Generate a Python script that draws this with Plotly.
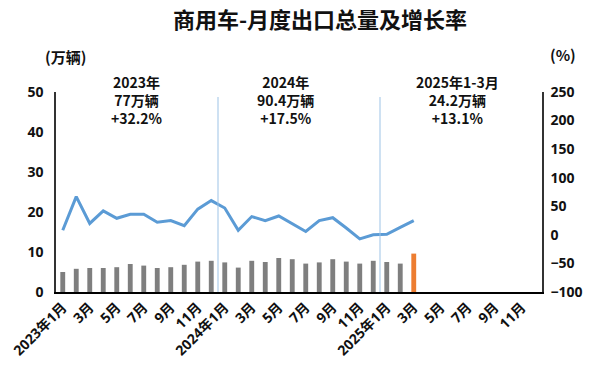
import plotly.graph_objects as go

months = [f"{y}年{m}月" for y in (2023, 2024, 2025) for m in range(1, 13)]
tick_labels = ["2023年1月", "3月", "5月", "7月", "9月", "11月",
               "2024年1月", "3月", "5月", "7月", "9月", "11月",
               "2025年1月", "3月", "5月", "7月", "9月", "11月"]

volume_2023 = [5.0, 5.8, 6.0, 6.0, 6.2, 7.0, 6.6, 6.0, 6.2, 6.8, 7.6, 7.8]
volume_2024 = [7.4, 6.1, 7.8, 7.5, 8.5, 8.2, 7.1, 7.4, 8.2, 7.6, 7.1, 7.8]
volume_2025 = [7.5, 7.1, 9.6]

growth_2023 = [8, 67, 20, 42, 29, 36, 36, 22, 25, 16, 45, 60]
growth_2024 = [47, 8, 32, 25, 33, 19, 6, 25, 30, 12, -7, 0]
growth_2025 = [1, 13, 25]

year_notes = ["2023年<br>77万辆<br>+32.2%",
              "2024年<br>90.4万辆<br>+17.5%",
              "2025年1-3月<br>24.2万辆<br>+13.1%"]

volumes = volume_2023 + volume_2024 + volume_2025
growth = growth_2023 + growth_2024 + growth_2025
n = len(volumes)
bar_colors = ["#7F7F7F"] * (n - 1) + ["#ED7D31"]

FONT = "Open Sans, Noto Sans CJK SC"
CJK = "Noto Sans CJK SC"
W, H = 600, 368
OFF = 8  # page body margin
L, R, T, B = 56 - OFF, 542 - OFF, 92 - OFF, 292 - OFF
PW, PH = R - L, B - T


def px(x):
    return (x - OFF - L) / PW


def py(y):
    return (B - (y - OFF)) / PH


fig = go.Figure()
fig.add_trace(go.Bar(x=months[:n], y=volumes, marker_color=bar_colors,
                     marker_line_width=0, width=0.36, yaxis="y", name="出口量"))
fig.add_trace(go.Scatter(x=months[:n], y=growth, mode="lines",
                         line=dict(color="#5B9BD5", width=3), yaxis="y2", name="增长率"))

for b in (11.5, 23.5):
    fig.add_shape(type="line", xref="x", yref="paper", x0=b, x1=b, y0=0, y1=py(97),
                  line=dict(color="#9DC3E6", width=1))

for xc, txt in zip((137, 285, 457), year_notes):
    fig.add_annotation(x=px(xc), xref="paper", y=py(100), yref="paper",
                       xanchor="center", yanchor="middle", align="center",
                       text=f"<b>{txt}</b>", showarrow=False,
                       font=dict(size=14, family=CJK, color="#111"))

fig.add_annotation(x=px(65), xref="paper", y=py(57), yref="paper",
                   xanchor="center", yanchor="middle",
                   text="<b>(万辆)</b>", showarrow=False,
                   font=dict(size=15, family=CJK, color="#111"))
fig.add_annotation(x=px(563), xref="paper", y=py(55), yref="paper",
                   xanchor="center", yanchor="middle",
                   text="<b>(%)</b>", showarrow=False,
                   font=dict(size=15, family=CJK, color="#111"))

fig.update_layout(
    width=W, height=H,
    margin=dict(l=L, r=W - R, t=T, b=H - B, autoexpand=False),
    paper_bgcolor="white", plot_bgcolor="white",
    showlegend=False,
    title=dict(text="<b>商用车-月度出口总量及增长率</b>", x=(320 - OFF) / W, xanchor="center",
               y=1 - 5 / H, yanchor="top", automargin=False,
               font=dict(size=22, family=CJK, color="#111")),
    xaxis=dict(categoryorder="array", categoryarray=months, range=[-0.5, 35.5],
               tickmode="array", tickvals=months[::2], ticktext=tick_labels,
               tickangle=-45, showline=True, linecolor="black", linewidth=1.5,
               showgrid=False, ticks="", automargin=False,
               tickfont=dict(size=14, family=FONT, color="#111", weight="bold")),
    yaxis=dict(range=[0, 50], dtick=10, showline=True, linecolor="#333", linewidth=1.5,
               showgrid=False, zeroline=False, ticks="", automargin=False,
               ticklabelstandoff=8,
               tickfont=dict(size=14, family=FONT, color="#111", weight="bold")),
    yaxis2=dict(range=[-100, 250], dtick=50, overlaying="y", side="right",
                showline=True, linecolor="#333", linewidth=1.5, automargin=False,
                showgrid=False, zeroline=False, ticks="", ticklabelstandoff=4,
                tickfont=dict(size=14, family=FONT, color="#111", weight="bold")),
    bargap=0.6,
)

fig.write_html("out.html")
